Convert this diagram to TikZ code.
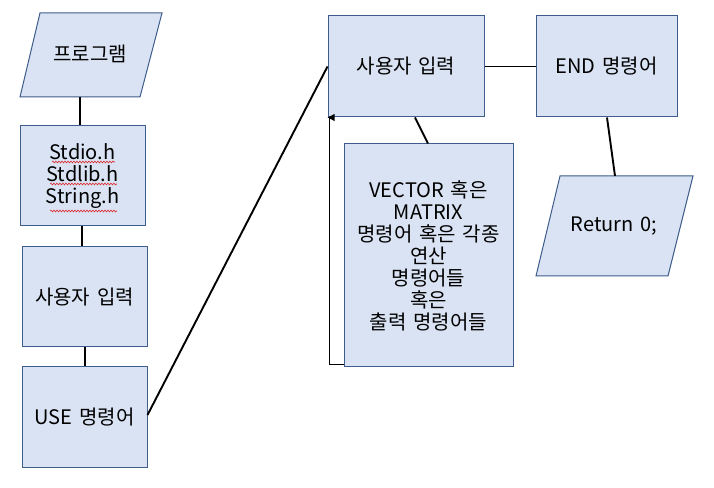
\documentclass[tikz,border=0pt]{standalone}
\usepackage{fontspec}
\setmainfont[WordSpace=1.5]{Noto Sans CJK KR}
\usetikzlibrary{arrows.meta,decorations.pathmorphing}
\definecolor{boxfill}{RGB}{218,227,243}
\definecolor{boxline}{RGB}{62,92,140}
\definecolor{squig}{RGB}{220,40,40}
\tikzset{
  fbox/.style={draw=boxline,fill=boxfill,line width=1pt,align=center,inner sep=0pt,
    font=\fontsize{20}{22}\selectfont},
  plain/.style={align=center,inner sep=0pt,font=\fontsize{20}{22}\selectfont},
  para/.style={draw=boxline,fill=boxfill,line width=1pt},
  conn/.style={draw=black,line width=1.9pt},
  sq/.style={draw=squig,line width=0.6pt,decorate,decoration={snake,amplitude=0.9pt,segment length=3pt}}
}
\begin{document}
\begin{tikzpicture}[x=1pt,y=1pt]
\useasboundingbox[fill=white] (0,0) rectangle (714,487);
% parallelogram 1
\draw[para] (40,474) -- (162,474) -- (140,390) -- (20,390) -- cycle;
\node[plain] (prog) at (90,433) {프로그램};
\coordinate (progb) at (80,390);
% boxes left
\node[fbox,minimum width=125pt,minimum height=100pt] (std) at (82.5,311) {Stdio.h\\Stdlib.h\\String.h};
\node[fbox,minimum width=125pt,minimum height=100pt] (inL) at (84.5,190) {사용자 입력};
\node[fbox,minimum width=125pt,minimum height=100pt] (use) at (84.5,70) {USE 명령어};
% middle
\node[fbox,minimum width=156pt,minimum height=101pt] (inM) at (406,420.5) {사용자 입력};
\node[fbox,minimum width=169pt,minimum height=223pt] (ops) at (428.5,231.5)
  {VECTOR 혹은\\MATRIX\\명령어 혹은 각종\\연산\\명령어들\\혹은\\출력 명령어들};
\node[fbox,minimum width=141pt,minimum height=101pt] (endb) at (606.5,420.5) {END 명령어};
% parallelogram 2
\draw[para] (560,311) -- (693,311) -- (668,211) -- (536,211) -- cycle;
\node[plain] (ret) at (614,261) {Return 0;};
\coordinate (rett) at (615,311);
% squiggles
\draw[sq] (52,325) -- (115,325);
\draw[sq] (50,303) -- (117,303);
\draw[sq] (50,276) -- (117,276);
% connectors
\draw[conn] (progb) -- (std.north -| progb);
\draw[conn] ([xshift=-0.5pt]std.south) -- ([xshift=-2.5pt]inL.north);
\draw[conn] ([xshift=0.5pt]inL.south) -- ([xshift=0.5pt]use.north);
\draw[conn] ([yshift=2pt]use.east) -- ([yshift=0pt]inM.west);
\draw[conn] (inM.east) -- (endb.west);
\draw[conn] ([xshift=9pt]inM.south) -- ([xshift=-0.5pt]ops.north);
\draw[conn] ([xshift=0.5pt]endb.south) -- (rett);
\draw[conn,-{Triangle[length=7pt,width=6.5pt]}] ([yshift=3pt]ops.south west) -- ++(-14,0) |- ([xshift=0pt]inM.south west) ;
\end{tikzpicture}
\end{document}
